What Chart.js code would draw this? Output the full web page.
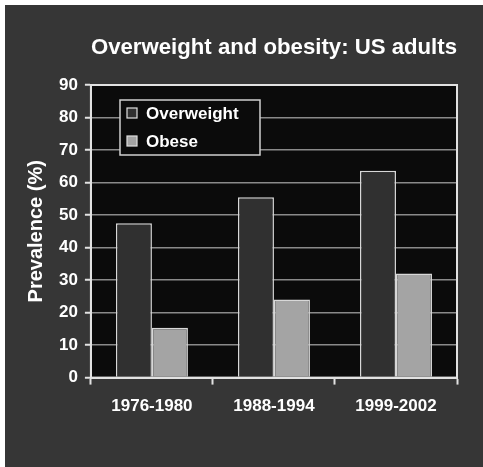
<!DOCTYPE html>
<html>
<head>
<meta charset="utf-8">
<script src="https://cdn.jsdelivr.net/npm/chart.js@4/dist/chart.umd.min.js"></script>
<style>
  html, body { margin: 0; padding: 0; background: #ffffff; }
  canvas { display: block; }
</style>
</head>
<body>
<canvas id="chartObesity" width="483" height="467"></canvas>
<script>
// survey periods
var periods = ["1976-1980", "1988-1994", "1999-2002"];
// prevalence, percent of adults
var overweight = [47.5, 55.5, 63.6];
var obese = [15.3, 24.0, 32.0];
// y axis
var yMin = 0, yMax = 90, yStep = 10;

var FONT = "'Liberation Sans', Arial, Helvetica, sans-serif";

// dark panel + black plot area behind the grid
var panelPlugin = {
    id: 'panel',
    beforeDraw: function(chart) {
        var ctx = chart.ctx, a = chart.chartArea;
        ctx.save();
        ctx.fillStyle = '#ffffff';
        ctx.fillRect(0, 0, chart.width, chart.height);
        ctx.fillStyle = '#363636';
        ctx.fillRect(5, 5, chart.width - 5, chart.height - 5);
        ctx.fillStyle = '#0b0b0b';
        ctx.fillRect(a.left, a.top, a.right - a.left, a.bottom - a.top);
        ctx.restore();
    },
    afterDatasetsDraw: function(chart) {
        var ctx = chart.ctx, a = chart.chartArea;
        ctx.save();
        ctx.strokeStyle = '#e2e2e2';
        ctx.lineWidth = 2;
        ctx.strokeRect(a.left, a.top, a.right - a.left, a.bottom - a.top);
        ctx.restore();
    }
};

// boxed legend sitting inside the plot area
var boxLegendPlugin = {
    id: 'boxLegend',
    afterDraw: function(chart) {
        var ctx = chart.ctx;
        var x = 120, y = 100, w = 140, h = 55;
        ctx.save();
        ctx.fillStyle = '#0b0b0b';
        ctx.fillRect(x, y, w, h);
        ctx.strokeStyle = '#d0d0d0';
        ctx.lineWidth = 1.5;
        ctx.strokeRect(x, y, w, h);
        ctx.font = 'bold 17px ' + FONT;
        ctx.textBaseline = 'middle';
        chart.data.datasets.forEach(function(ds, i) {
            var cy = y + 13 + i * 28;
            ctx.fillStyle = ds.backgroundColor;
            ctx.fillRect(x + 7, cy - 5, 10, 10);
            ctx.strokeStyle = '#e0e0e0';
            ctx.lineWidth = 1.2;
            ctx.strokeRect(x + 7, cy - 5, 10, 10);
            ctx.fillStyle = '#ffffff';
            ctx.fillText(ds.label, x + 26, cy + 1);
        });
        ctx.restore();
    }
};

var dataChartObesity = {
    labels: periods,
    datasets: [{
        label: "Overweight",
        backgroundColor: "#303030",
        borderColor: "#d8d8d8",
        borderWidth: 1.5,
        data: overweight
    }, {
        label: "Obese",
        backgroundColor: "#a4a4a4",
        borderColor: "#d8d8d8",
        borderWidth: 1.5,
        data: obese
    }]
};

var myChartObesity = new Chart(document.getElementById('chartObesity').getContext('2d'), {
    type: 'bar',
    data: dataChartObesity,
    options: {
        responsive: false,
        animation: false,
        devicePixelRatio: 1,
        layout: { padding: { left: 24, right: 26, top: 0, bottom: 38 } },
        datasets: {
            bar: { barPercentage: 1.0, categoryPercentage: 0.59, borderSkipped: 'start' }
        },
        plugins: {
            legend: { display: false },
            tooltip: { enabled: false },
            title: {
                display: true,
                fullSize: false,
                text: 'Overweight and obesity: US adults',
                color: '#ffffff',
                font: { family: FONT, size: 22.5, weight: 'bold' },
                padding: { top: 34, bottom: 24 }
            }
        },
        scales: {
            x: {
                grid: {
                    offset: true,
                    drawOnChartArea: false,
                    drawTicks: true,
                    tickLength: 7,
                    tickColor: '#e2e2e2',
                    tickWidth: 2
                },
                border: { display: true, color: '#e2e2e2', width: 2 },
                ticks: {
                    color: '#ffffff',
                    padding: 12,
                    font: { family: FONT, size: 17, weight: 'bold' }
                }
            },
            y: {
                min: yMin,
                max: yMax,
                ticks: {
                    stepSize: yStep,
                    color: '#ffffff',
                    padding: 7,
                    font: { family: FONT, size: 17, weight: 'bold' }
                },
                grid: {
                    color: '#8a8a8a',
                    lineWidth: 1.5,
                    tickLength: 6,
                    tickColor: '#e2e2e2',
                    tickWidth: 2
                },
                border: { display: true, color: '#e2e2e2', width: 2 },
                title: {
                    display: true,
                    text: 'Prevalence (%)',
                    color: '#ffffff',
                    padding: { top: 0, bottom: 4 },
                    font: { family: FONT, size: 20, weight: 'bold' }
                }
            }
        }
    },
    plugins: [panelPlugin, boxLegendPlugin]
});
</script>
</body>
</html>
